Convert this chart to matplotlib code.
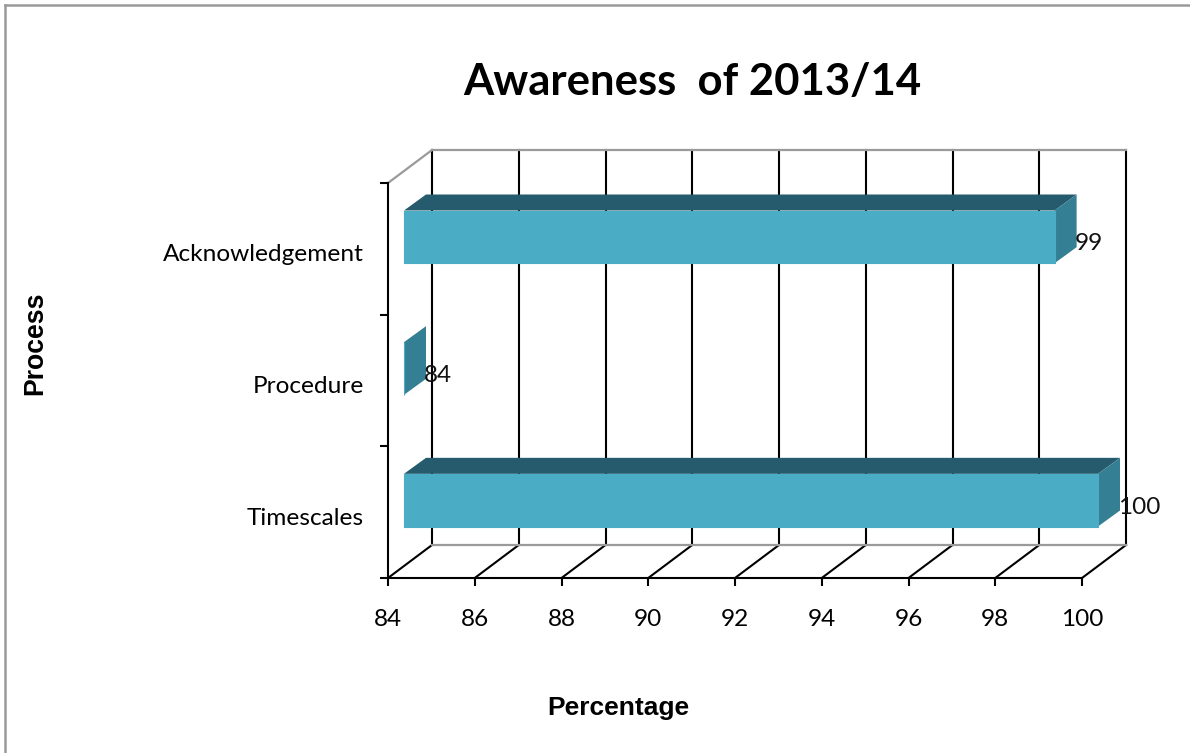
import matplotlib
matplotlib.use("Agg")
import matplotlib.pyplot as plt
from matplotlib.lines import Line2D
from matplotlib.patches import Polygon, Rectangle
from matplotlib.transforms import Affine2D, IdentityTransform

categories = ["Timescales", "Procedure", "Acknowledgement"]
values = [100, 84, 99]
x_ticks = [84, 86, 88, 90, 92, 94, 96, 98, 100]

W, H = 1190, 753
FRONT = "#4BACC6"
TOP = "#255B6C"
SIDE = "#357F94"
GREY = "#9A9A9A"

plt.rcParams["font.family"] = ["Lato", "DejaVu Sans"]

fig = plt.figure(figsize=(W / 100, H / 100), dpi=100)
# axes box is the front plane of the 3d frame
ax = fig.add_axes([388 / W, 1 - 578 / H, 694 / W, 395 / H])
ax.set_xlim(84, 100)
ax.set_ylim(0, 3)
ax.patch.set_alpha(0)

# page border
for xs, ys in [([5, 5], [5, H]), ([5, W], [5, 5])]:
    fig.add_artist(Line2D([x / W for x in xs], [1 - y / H for y in ys],
                          color=GREY, lw=1.8, transform=fig.transFigure))


def shifted(dx, dy):
    return ax.transData + Affine2D().translate(dx, dy)


def px(x, y, dx=0, dy=0):
    a, b = ax.transData.transform((x, y))
    return a + dx, b + dy


DEPTH = (44, 33)    # wall depth
BAR_OFF = (16, 12)  # front of the bars inside the frame
BAR_D = (22, 16)    # bar depth
BAR_H = 0.4

# back wall grid and floor
for t in x_ticks:
    ax.plot([t, t], [0, 3], color="black", lw=1.5, clip_on=False, zorder=1,
            transform=shifted(*DEPTH))
    ax.plot(*zip(px(t, 0), px(t, 0, *DEPTH)), color="black", lw=1.5, clip_on=False,
            zorder=1, transform=IdentityTransform())
ax.plot([84, 100], [3, 3], color=GREY, lw=1.6, clip_on=False, zorder=1,
        transform=shifted(*DEPTH))
ax.plot([84, 100], [0, 0], color=GREY, lw=1.6, clip_on=False, zorder=1,
        transform=shifted(*DEPTH))
ax.plot(*zip(px(84, 3), px(84, 3, *DEPTH)), color=GREY, lw=1.6, clip_on=False,
        zorder=1, transform=IdentityTransform())

# bars
for i, (name, v) in enumerate(zip(categories, values)):
    y0 = i + 0.5 - BAR_H / 2
    y1 = i + 0.5 + BAR_H / 2
    ox, oy = BAR_OFF
    dx, dy = BAR_D
    if v > 84:
        ax.add_patch(Polygon([px(84, y1, ox, oy), px(v, y1, ox, oy),
                              px(v, y1, ox + dx, oy + dy), px(84, y1, ox + dx, oy + dy)],
                             closed=True, fc=TOP, ec="none", zorder=3,
                             transform=IdentityTransform(), clip_on=False))
    ax.add_patch(Polygon([px(v, y0, ox, oy), px(v, y1, ox, oy),
                          px(v, y1, ox + dx, oy + dy), px(v, y0, ox + dx, oy + dy)],
                         closed=True, fc=SIDE, ec="none", zorder=3,
                         transform=IdentityTransform(), clip_on=False))
    ax.add_patch(Rectangle((84, y0), v - 84, BAR_H, fc=FRONT, ec=FRONT, lw=0.8, zorder=4,
                           transform=shifted(ox, oy), clip_on=False))
    ax.text(v, i + 0.5, str(v), fontsize=17.6, color="#111111", va="center", ha="left",
            zorder=6, transform=shifted(ox + 20, oy - 7), clip_on=False)

# frame and ticks
for s in ["top", "right"]:
    ax.spines[s].set_visible(False)
ax.spines["left"].set_linewidth(1.5)
ax.spines["bottom"].set_linewidth(1.5)
ax.set_xticks(x_ticks)
ax.set_yticks([0, 1, 2, 3])
ax.set_yticklabels([])
ax.set_yticks([0.5, 1.5, 2.5], labels=categories, minor=True)
ax.tick_params(axis="x", length=6, width=1.5, pad=16, labelsize=17.6)
ax.tick_params(axis="y", which="major", length=6, width=1.5)
ax.tick_params(axis="y", which="minor", length=0, pad=17.5, labelsize=17.6)
for lab in ax.get_yticklabels(minor=True):
    lab.set_transform(lab.get_transform() + Affine2D().translate(0, -4))

fig.text(692 / W, 1 - 82 / H, "Awareness  of 2013/14", fontsize=31.4, fontweight="bold",
         ha="center", va="center", color="black")
fig.text(618 / W, 1 - 708 / H, "Percentage", fontsize=19, fontweight="bold",
         family="Liberation Sans", ha="center", va="center")
fig.text(35 / W, 1 - 343 / H, "Process", fontsize=19.2, fontweight="bold", rotation=90,
         family="Liberation Sans", ha="center", va="center")

fig.savefig("out.png", dpi=100)
